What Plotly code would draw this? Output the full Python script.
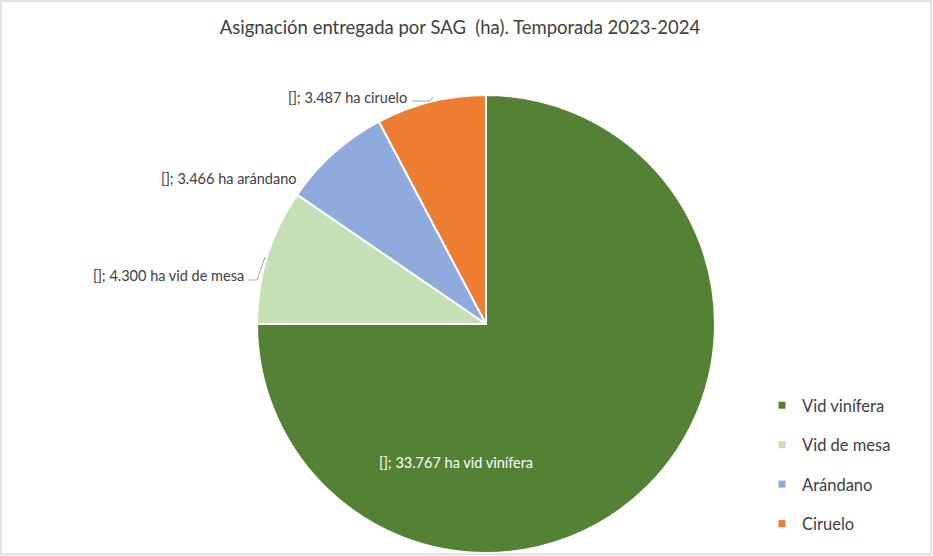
import plotly.graph_objects as go

cultivos = ["Vid vinífera", "Vid de mesa", "Arándano", "Ciruelo"]
hectareas = [33767, 4300, 3466, 3487]
colores = ["#548235", "#C5E0B4", "#8FAADC", "#ED7D31"]


def fmt(v):
    return f"{v:,}".replace(",", ".")


etiquetas = [f"[]; {fmt(v)} ha {c.lower()}" for c, v in zip(cultivos, hectareas)]

W, H = 933, 556
FONT = "Lato, Calibri, sans-serif"

fig = go.Figure()
fig.add_trace(go.Pie(
    labels=cultivos,
    values=hectareas,
    marker=dict(colors=colores, line=dict(color="white", width=2)),
    sort=False,
    direction="clockwise",
    rotation=0,
    textinfo="none",
    hoverinfo="label+value+percent",
    showlegend=False,
    domain=dict(x=[(486 - 229) / W, (486 + 229) / W], y=[3 / H, 1 - 95 / H]),
))

# legend entries (spaced like the original)
for i, (c, col) in enumerate(zip(cultivos, colores)):
    fig.add_trace(go.Scatter(
        x=[None], y=[None], mode="markers", name=c,
        marker=dict(symbol="square", size=7, color=col),
        legendgroup=f"g{i}", showlegend=True,
    ))

# data labels
pos = [
    (456, 462, "center", "white"),
    (246, 275, "right", "#404040"),
    (298, 178, "right", "#404040"),
    (409, 97, "right", "#404040"),
]
for txt, (px_, py_, anc, col) in zip(etiquetas, pos):
    fig.add_annotation(
        x=px_ / W, y=1 - py_ / H, xref="paper", yref="paper",
        text=txt, showarrow=False, xanchor=anc, yanchor="middle",
        font=dict(family=FONT, size=14.5, color=col),
    )

# leader lines
lines = [
    [(412, 101), (430, 101), (433, 97)],
    [(248, 280), (257, 280), (265, 257)],
]
for pts in lines:
    path = "M " + " L ".join(f"{x / W},{1 - y / H}" for x, y in pts)
    fig.add_shape(type="path", path=path, xref="paper", yref="paper",
                  line=dict(color="#A6A6A6", width=1))

# outer border
fig.add_shape(type="rect", xref="paper", yref="paper", x0=0.001, y0=0.003, x1=0.998, y1=0.998,
              line=dict(color="#D9D9D9", width=1.5))

fig.update_layout(
    width=W, height=H,
    margin=dict(l=0, r=0, t=0, b=0),
    paper_bgcolor="white", plot_bgcolor="white",
    title=dict(text="Asignación entregada por SAG\u00a0 (ha). Temporada 2023-2024",
               x=460 / W, xanchor="center", y=1 - 28 / H, yanchor="middle",
               font=dict(family=FONT, size=18.5, color="#404040")),
    xaxis=dict(visible=False), yaxis=dict(visible=False),
    legend=dict(x=762 / W, y=1 - 388 / H, xanchor="left", yanchor="top",
                tracegroupgap=15, font=dict(family=FONT, size=16.5, color="#404040"),
                bgcolor="rgba(0,0,0,0)", itemwidth=30),
)

fig.write_html("out.html", config={"displayModeBar": False},
               post_script="document.body.style.margin='0';")
